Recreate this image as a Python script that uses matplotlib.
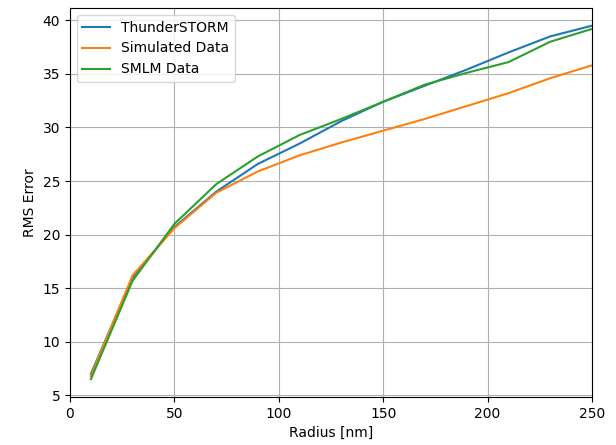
import matplotlib
matplotlib.use("Agg")
import matplotlib.pyplot as plt

radius = [10, 30, 50, 70, 90, 110, 130, 150, 170, 190, 210, 230, 250]
thunderstorm = [7.0, 16.0, 20.7, 24.0, 26.6, 28.5, 30.6, 32.4, 33.9, 35.4, 37.0, 38.5, 39.5]
simulated = [6.8, 16.2, 20.6, 23.9, 25.9, 27.4, 28.6, 29.7, 30.8, 32.0, 33.2, 34.6, 35.8]
smlm = [6.5, 15.7, 21.0, 24.7, 27.3, 29.3, 30.8, 32.4, 34.0, 35.1, 36.1, 38.0, 39.2]

fig = plt.figure(figsize=(6.16, 4.45), dpi=100)
ax = fig.add_subplot(111)
fig.subplots_adjust(left=0.1136, right=0.961, top=0.982, bottom=0.108)

ax.plot(radius, thunderstorm, label="ThunderSTORM")
ax.plot(radius, simulated, label="Simulated Data")
ax.plot(radius, smlm, label="SMLM Data")

ax.set_xlim(0, 250)
ax.set_xlabel("Radius [nm]")
ax.set_ylabel("RMS Error")
ax.grid(True)
ax.legend(loc="upper left")

fig.savefig("out.png", dpi=100)
